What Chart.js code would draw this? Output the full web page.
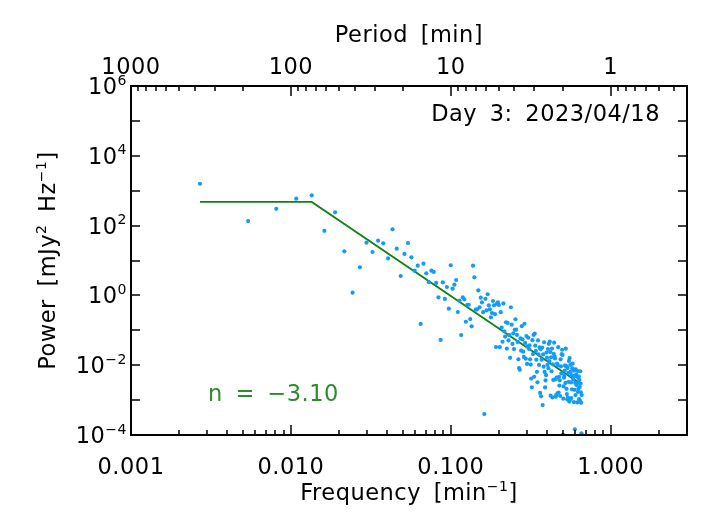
<!DOCTYPE html>
<html><head><meta charset="utf-8">
<script src="https://cdn.jsdelivr.net/npm/chart.js@4.4.1/dist/chart.umd.min.js"></script>
<style>html,body{margin:0;padding:0;background:#fff}#wrap{width:720px;height:512px}</style>
</head><body><div id="wrap"><canvas id="c" width="720" height="512"></canvas></div>
<script>
// ---- data ----
const frequency = [
0.0027,0.0054,0.0081,0.0108,0.0135,0.0162,0.0189,0.0216,0.0243,0.0270,
0.0297,0.0324,0.0351,0.0378,0.0405,0.0432,0.0459,0.0486,0.0513,0.0540,
0.0567,0.0594,0.0621,0.0648,0.0675,0.0702,0.0729,0.0756,0.0783,0.0810,
0.0837,0.0864,0.0891,0.0918,0.0945,0.0972,0.0999,0.1026,0.1053,0.1080,
0.1107,0.1134,0.1161,0.1188,0.1215,0.1242,0.1269,0.1296,0.1323,0.1350,
0.1377,0.1404,0.1431,0.1458,0.1485,0.1512,0.1539,0.1566,0.1593,0.1620,
0.1647,0.1674,0.1701,0.1728,0.1755,0.1782,0.1809,0.1836,0.1863,0.1890,
0.1917,0.1944,0.1971,0.1998,0.2025,0.2052,0.2079,0.2106,0.2133,0.2160,
0.2187,0.2214,0.2241,0.2268,0.2295,0.2322,0.2349,0.2376,0.2403,0.2430,
0.2457,0.2484,0.2511,0.2538,0.2565,0.2592,0.2619,0.2646,0.2673,0.2700,
0.2727,0.2754,0.2781,0.2808,0.2835,0.2862,0.2889,0.2916,0.2943,0.2970,
0.2997,0.3024,0.3051,0.3078,0.3105,0.3132,0.3159,0.3186,0.3213,0.3240,
0.3267,0.3294,0.3321,0.3348,0.3375,0.3402,0.3429,0.3456,0.3483,0.3510,
0.3537,0.3564,0.3591,0.3618,0.3645,0.3672,0.3699,0.3726,0.3753,0.3780,
0.3807,0.3834,0.3861,0.3888,0.3915,0.3942,0.3969,0.3996,0.4023,0.4050,
0.4077,0.4104,0.4131,0.4158,0.4185,0.4212,0.4239,0.4266,0.4293,0.4320,
0.4347,0.4374,0.4401,0.4428,0.4455,0.4482,0.4509,0.4536,0.4563,0.4590,
0.4617,0.4644,0.4671,0.4698,0.4725,0.4752,0.4779,0.4806,0.4833,0.4860,
0.4887,0.4914,0.4941,0.4968,0.4995,0.5022,0.5049,0.5076,0.5103,0.5130,
0.5157,0.5184,0.5211,0.5238,0.5265,0.5292,0.5319,0.5346,0.5373,0.5400,
0.5427,0.5454,0.5481,0.5508,0.5535,0.5562,0.5589,0.5616,0.5643,0.5670,
0.5697,0.5724,0.5751,0.5778,0.5805,0.5832,0.5859,0.5886,0.5913,0.5940,
0.5967,0.5994,0.6021,0.6048,0.6075,0.6102,0.6129,0.6156,0.6183,0.6210,
0.6237,0.6264,0.6291,0.6318,0.6345,0.6372,0.6399,0.6426,0.6453,0.6480,
0.6507,0.6534,0.6561,0.6588];
const power = [
1580,135,302,590,735,71,240,18.3,1.2,6.4,
32.4,17.5,37,31,11.5,78,21.8,3.6,15.4,31.7,
12.3,5.1,7.1,0.152,8.1,4.3,2.4,5.1,4.7,2.3,
0.88,0.053,2.37,0.79,1.74,0.416,7.3,1.56,2.03,2.76,
0.334,0.705,0.073,0.88,0.77,0.176,0.54,0.54,0.21,0.13,
7.1,3.3,0.39,0.40,1.4,0.456,0.86,0.63,0.33,0.0004,
0.80,0.37,1.08,0.52,0.40,0.235,0.313,0.69,0.52,0.29,
0.033,0.58,0.63,0.53,0.033,0.33,0.12,0.047,0.59,0.094,
0.066,0.17,0.030,0.163,0.0514,0.0726,0.0163,0.458,0.145,0.0408,
0.0815,0.0289,0.103,0.207,0.104,0.0736,0.0465,0.0147,0.00826,0.00736,
0.0585,0.0261,0.131,0.0546,0.0244,0.0173,0.154,0.0434,0.0154,0.0687,
0.0109,0.0344,0.0612,0.0294,0.037,0.0147,0.0104,0.00415,0.00233,0.0522,
0.0208,0.0738,0.00466,0.0811,0.0362,0.0256,0.0144,0.00644,0.00323,0.0512,
0.0204,0.0102,0.0323,0.00161,0.0287,0.00128,0.0144,0.0322,0.000721,0.0203,
0.00908,0.0455,0.00643,0.00231,0.00366,0.00518,0.0231,0.0164,0.0103,0.0291,
0.0082,0.0411,0.013,0.0475,0.0238,0.00134,0.0169,0.00671,0.03,0.00119,
0.0106,0.00378,0.0212,0.0441,0.0175,0.0156,0.00393,0.00124,0.00139,0.00441,
0.0111,0.00156,0.00986,0.0329,0.00165,0.00465,0.00261,0.00369,0.00131,0.0147,
0.00927,0.00585,0.0207,0.0277,0.0196,0.000102,0.0011,0.00247,0.0044,0.00493,
0.00697,0.00984,0.00311,0.0297,0.0094,0.0021,0.00149,0.00105,0.00837,0.00118,
0.00593,0.00333,0.0133,0.000906,0.0161,0.00102,0.0102,0.00641,0.00321,0.00114,
0.00509,0.00203,0.00807,0.0111,0.00783,0.00393,0.00494,0.000879,0.00698,0.00197,
0.000146,0.00312,0.00139,0.00766,0.00542,0.00272,0.00483,0.00305,0.000859,0.00682,
0.00171,0.0043,0.00216,0.00474,0.00106,0.00377,0.00238,0.000946,0.0067,0.00299,
0.00168,0.000843,0.000112,0.0014];
const fitFrequency = [0.0027, 0.0135, 0.655];
const fitPower = [478, 478, 0.00284];
const freqTicks = [0.001, 0.01, 0.1, 1];
const freqTickLabels = ['0.001', '0.010', '0.100', '1.000'];
const periodTicks = [1000, 100, 10, 1];
const periodTickLabels = ['1000', '100', '10', '1'];
const powerTickExponents = [-4, -2, 0, 2, 4, 6];
const fitLabel = 'n = \u22123.10';
const dateLabel = 'Day 3: 2023/04/18';

// ---- drawing helpers ----
const FONT = "'DejaVu Sans', sans-serif";
const FS = 22.5;
function setFont(ctx, size) {
  ctx.font = size + 'px ' + FONT;
  try { ctx.letterSpacing = '0.5px'; ctx.wordSpacing = '5px'; } catch (e) {}
}
function drawRich(ctx, parts, x, y, align, size, color) {
  const sup = Math.round(size * 0.64);
  let w = 0; const ws = [];
  parts.forEach(p => { setFont(ctx, p[1] ? sup : size); const m = ctx.measureText(p[0]).width; ws.push(m); w += m; });
  let sx = align === 'center' ? x - w / 2 : (align === 'right' ? x - w : x);
  ctx.fillStyle = color || '#000';
  ctx.textAlign = 'left'; ctx.textBaseline = 'alphabetic';
  parts.forEach((p, i) => { setFont(ctx, p[1] ? sup : size); ctx.fillText(p[0], sx, p[1] ? y - size * 0.42 : y); sx += ws[i]; });
}

const idlAxes = {
  id: 'idlAxes',
  afterDatasetsDraw(chart) {
    const ctx = chart.ctx, a = chart.chartArea;
    const xs = chart.scales.x, ys = chart.scales.y;
    ctx.save();
    ctx.strokeStyle = '#000';
    ctx.lineWidth = 1.5;
    const tick = (x1, y1, x2, y2) => { ctx.beginPath(); ctx.moveTo(x1, y1); ctx.lineTo(x2, y2); ctx.stroke(); };
    freqTicks.forEach(d => {
      const px = Math.round(xs.getPixelForValue(d));
      tick(px, a.bottom, px, a.bottom - 10);
      for (let m = 2; m <= 9; m++) {
        const v = m * d; if (v > xs.max) break;
        const q = Math.round(xs.getPixelForValue(v)); tick(q, a.bottom, q, a.bottom - 5);
      }
    });
    periodTicks.forEach(p => {
      const px = Math.round(xs.getPixelForValue(1 / p));
      tick(px, a.top, px, a.top + 10);
      for (let m = 2; m <= 9; m++) {
        const per = m * p / 10; const v = 1 / per;
        if (v > xs.max || v < xs.min) continue;
        const q = Math.round(xs.getPixelForValue(v)); tick(q, a.top, q, a.top + 5);
      }
    });
    for (let e = -4; e <= 6; e++) {
      const py = Math.round(ys.getPixelForValue(Math.pow(10, e)));
      tick(a.left, py, a.left + 9, py);
      tick(a.right, py, a.right - 9, py);
    }
    ctx.lineWidth = 2;
    ctx.strokeRect(a.left, a.top, a.right - a.left, a.bottom - a.top);
    ctx.restore();
  },
  afterDraw(chart) {
    const ctx = chart.ctx, a = chart.chartArea;
    const xs = chart.scales.x, ys = chart.scales.y;
    ctx.save();
    freqTicks.forEach((d, i) => drawRich(ctx, [[freqTickLabels[i], 0]], xs.getPixelForValue(d), a.bottom + 39, 'center', FS));
    periodTicks.forEach((p, i) => drawRich(ctx, [[periodTickLabels[i], 0]], xs.getPixelForValue(1 / p), a.top - 12, 'center', FS));
    powerTickExponents.forEach(e => {
      const py = ys.getPixelForValue(Math.pow(10, e));
      const ex = e < 0 ? '\u2212' + Math.abs(e) : String(e);
      drawRich(ctx, [['10', 0], [ex, 1]], a.left - 4, py + 8, 'right', FS);
    });
    const cx = (a.left + a.right) / 2;
    drawRich(ctx, [['Frequency [min', 0], ['\u22121', 1], [']', 0]], cx, 500, 'center', FS);
    drawRich(ctx, [['Period [min]', 0]], cx, 42, 'center', FS);
    ctx.save();
    ctx.translate(55, (a.top + a.bottom) / 2);
    ctx.rotate(-Math.PI / 2);
    drawRich(ctx, [['Power [mJy', 0], ['2', 1], [' Hz', 0], ['\u22121', 1], [']', 0]], 0, 0, 'center', FS);
    ctx.restore();
    drawRich(ctx, [[dateLabel, 0]], 660, 121, 'right', FS);
    drawRich(ctx, [[fitLabel, 0]], 208, 401, 'left', FS, '#2a8c2a');
    ctx.restore();
  }
};

const hidden = { grid: { display: false }, border: { display: false }, ticks: { display: false } };
new Chart(document.getElementById('c'), {
  type: 'scatter',
  data: {
    datasets: [
      { label: 'Power', data: frequency.map((f, i) => ({ x: f, y: power[i] })),
        pointRadius: 2.1, pointHoverRadius: 2.1, borderWidth: 0, backgroundColor: 'rgb(20,155,250)', showLine: false, xAxisID: 'x', yAxisID: 'y' },
      { label: 'Fit', type: 'line', data: fitFrequency.map((f, i) => ({ x: f, y: fitPower[i] })),
        borderColor: '#0f840f', borderWidth: 1.8, pointRadius: 0, fill: false, tension: 0, xAxisID: 'x', yAxisID: 'y' }
    ]
  },
  options: {
    responsive: false, animation: false, devicePixelRatio: 1, events: [],
    layout: { padding: 0 },
    plugins: { legend: { display: false }, tooltip: { enabled: false } },
    scales: {
      x: Object.assign({ type: 'logarithmic', position: 'bottom', min: 0.001, max: 3, afterFit(s) { s.height = 77; } }, hidden),
      xTop: Object.assign({ type: 'logarithmic', position: 'top', min: 0.001, max: 3, afterFit(s) { s.height = 86; } }, hidden),
      y: Object.assign({ type: 'logarithmic', position: 'left', min: 1e-4, max: 1e6, afterFit(s) { s.width = 131; } }, hidden),
      yRight: Object.assign({ type: 'logarithmic', position: 'right', min: 1e-4, max: 1e6, afterFit(s) { s.width = 33; } }, hidden)
    }
  },
  plugins: [idlAxes]
});
</script>
</body></html>
